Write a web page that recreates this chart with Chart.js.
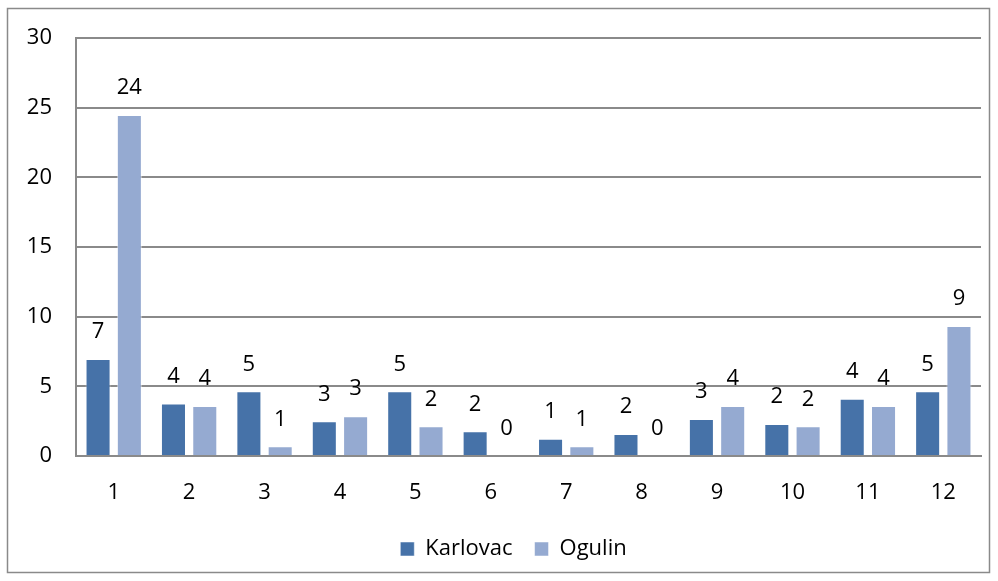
<!DOCTYPE html>
<html>
<head>
<meta charset="utf-8">
<script src="https://cdn.jsdelivr.net/npm/chart.js@4"></script>
<style>
  html, body { margin: 0; padding: 0; background: #fff; }
  #wrap { width: 998px; height: 581px; }
</style>
</head>
<body>
<div id="wrap"><canvas id="myChart" width="998" height="581"></canvas></div>
<script>
const months = ['1', '2', '3', '4', '5', '6', '7', '8', '9', '10', '11', '12'];
const karlovac = [6.96, 3.77, 4.64, 2.49, 4.64, 1.77, 1.23, 1.57, 2.66, 2.30, 4.11, 4.64];
const ogulin = [24.47, 3.58, 0.70, 2.86, 2.13, 0, 0.70, 0, 3.58, 2.13, 3.58, 9.33];
const karlovacLabels = [7, 4, 5, 3, 5, 2, 1, 2, 3, 2, 4, 5];
const ogulinLabels = [24, 4, 1, 3, 2, 0, 1, 0, 4, 2, 4, 9];

const darkBlue = '#4672A8';
const lightBlue = '#95AAD1';
const gridGrey = '#8A8A8A';
const font = {family: '"Open Sans", sans-serif', size: 22};

// outer frame of the chart
const framePlugin = {
    id: 'frame',
    beforeDraw(chart) {
        const c = chart.ctx;
        c.save();
        c.strokeStyle = gridGrey;
        c.lineWidth = 1.5;
        c.strokeRect(7.5, 8.5, 982, 564);
        c.restore();
    }
};

// legend in the original sits a bit right of centre
const legendShift = {
    id: 'legendShift',
    afterLayout(chart) {
        chart.legend.left += 14;
        chart.legend.right += 14;
    }
};

// value labels over the bars
const valueLabels = {
    id: 'valueLabels',
    afterDatasetsDraw(chart) {
        const c = chart.ctx;
        const texts = [karlovacLabels, ogulinLabels];
        c.save();
        c.font = font.size + 'px ' + font.family;
        c.fillStyle = '#000';
        c.textAlign = 'center';
        c.textBaseline = 'middle';
        chart.data.datasets.forEach((ds, i) => {
            chart.getDatasetMeta(i).data.forEach((bar, j) => {
                c.fillText(String(texts[i][j]), bar.x, bar.y - 27);
            });
        });
        c.restore();
    }
};

const ctx = document.getElementById('myChart').getContext('2d');

new Chart(ctx, {
    type: 'bar',
    data: {
        labels: months,
        datasets: [{
            label: 'Karlovac',
            data: karlovac,
            backgroundColor: darkBlue,
            borderColor: 'rgba(255,255,255,0.5)',
            borderWidth: 1,
            categoryPercentage: 0.83,
            barPercentage: 0.8
        }, {
            label: 'Ogulin',
            data: ogulin,
            backgroundColor: lightBlue,
            borderColor: 'rgba(255,255,255,0.5)',
            borderWidth: 1,
            categoryPercentage: 0.83,
            barPercentage: 0.8
        }]
    },
    options: {
        responsive: false,
        maintainAspectRatio: false,
        animation: false,
        layout: {
            padding: {left: 18, right: 17, top: 38, bottom: 11}
        },
        scales: {
            x: {
                grid: {display: false},
                border: {display: true, color: gridGrey, width: 2},
                ticks: {color: '#000', font: font, padding: 16},
                afterFit(scale) { scale.height = 60; }
            },
            y: {
                min: 0,
                max: 30,
                ticks: {stepSize: 5, color: '#000', font: font, padding: 24},
                grid: {color: gridGrey, lineWidth: 2, drawTicks: false},
                border: {display: true, color: gridGrey, width: 2},
                afterFit(scale) { scale.width = 58; }
            }
        },
        plugins: {
            legend: {
                position: 'bottom',
                labels: {
                    color: '#000',
                    font: font,
                    boxWidth: 14,
                    boxHeight: 14,
                    padding: 22
                }
            },
            tooltip: {enabled: false}
        }
    },
    plugins: [framePlugin, legendShift, valueLabels]
});
</script>
</body>
</html>
